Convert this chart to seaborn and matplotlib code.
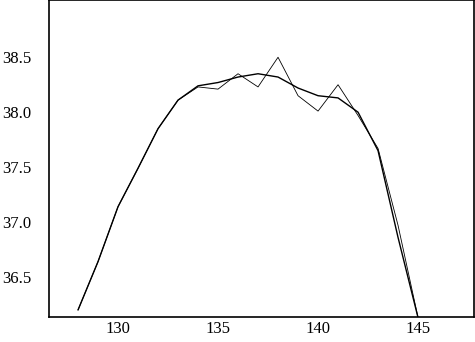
import numpy as np
import pandas as pd
import matplotlib
matplotlib.use("Agg")
import matplotlib.pyplot as plt
import seaborn as sns

# valeurs
x = [128, 129, 130, 131, 132, 133, 134, 135, 136, 137, 138, 139, 140, 141, 142, 143, 144, 145]
brut = [36.20, 36.64, 37.14, 37.49, 37.85, 38.11, 38.23, 38.21, 38.35, 38.23,
        38.50, 38.15, 38.01, 38.25, 37.97, 37.67, 36.97, 36.13]
lisse = [36.20, 36.64, 37.14, 37.49, 37.85, 38.11, 38.24, 38.27, 38.32, 38.35,
         38.32, 38.22, 38.15, 38.13, 38.00, 37.65, 36.86, 36.13]
xticks = [130, 135, 140, 145]
yticks = [36.5, 37.0, 37.5, 38.0, 38.5]

df = pd.DataFrame({"x": x, "brut": brut, "lisse": lisse})

sns.set_style("white")
plt.rcParams["font.family"] = ["Liberation Serif", "DejaVu Serif"]

fig = plt.figure(figsize=(4.75, 3.42), dpi=100)
ax = fig.add_axes([0.1032, 0.0731, 0.8948, 0.9259])

sns.lineplot(data=df, x="x", y="brut", color="black", linewidth=0.6, ax=ax)
sns.lineplot(data=df, x="x", y="lisse", color="black", linewidth=1.0, ax=ax)

ax.set_xlim(126.55, 147.8)
ax.set_ylim(36.136, 39.018)
ax.set_xticks(xticks)
ax.set_yticks(yticks)
ax.set_xticklabels([str(t) for t in xticks])
ax.set_yticklabels([f"{t:.1f}" for t in yticks])
ax.tick_params(axis="both", length=0, labelsize=12, colors="black")
ax.tick_params(axis="y", pad=13)
ax.tick_params(axis="x", pad=3)
ax.set_xlabel("")
ax.set_ylabel("")
for s in ax.spines.values():
    s.set_color("black")
    s.set_linewidth(1.2)

fig.savefig("out.png", dpi=100)
plt.close()
